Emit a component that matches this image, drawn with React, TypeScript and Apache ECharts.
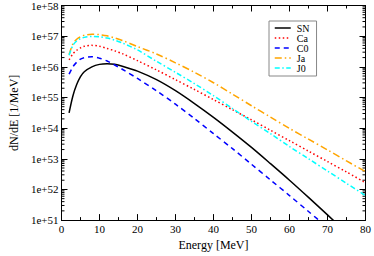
import React, { useEffect, useRef } from 'react';
import * as echarts from 'echarts';

// Energy grid [MeV]
const energies = [2, 3, 4, 5, 6, 8, 10, 12, 14, 16, 20, 25, 30, 35, 40, 45, 50, 55, 60, 65, 70, 75, 80];
// log10(dN/dE)
const snLog = [54.5, 55.05, 55.42, 55.68, 55.84, 56.0, 56.08, 56.1, 56.08, 56.02, 55.86, 55.58, 55.22, 54.8, 54.35, 53.87, 53.37, 52.84, 52.3, 51.74, 51.17, 50.59];
const caLog = [56.23, 56.42, 56.54, 56.62, 56.67, 56.7, 56.67, 56.6, 56.52, 56.43, 56.2, 55.9, 55.58, 55.26, 54.93, 54.6, 54.27, 53.93, 53.59, 53.25, 52.91, 52.57, 52.22];
const c0Log = [55.76, 56.0, 56.15, 56.25, 56.3, 56.33, 56.28, 56.19, 56.06, 55.92, 55.62, 55.22, 54.78, 54.31, 53.82, 53.33, 52.82, 52.31, 51.8, 51.28, 50.76];
const jaLog = [56.4, 56.75, 56.9, 56.98, 57.03, 57.06, 57.05, 57.01, 56.94, 56.86, 56.66, 56.42, 56.13, 55.82, 55.48, 55.11, 54.73, 54.36, 53.99, 53.64, 53.29, 52.93, 52.58];
const j0Log = [56.38, 56.7, 56.84, 56.92, 56.96, 56.99, 56.98, 56.94, 56.87, 56.78, 56.55, 56.18, 55.82, 55.45, 55.06, 54.64, 54.22, 53.82, 53.4, 53.0, 52.6, 52.2, 51.8];

const seriesNames = ['SN', 'Ca', 'C0', 'Ja', 'J0'];
const yDecades = [51, 52, 53, 54, 55, 56, 57];
const minorMultipliers = [2, 3, 4, 5, 6, 7, 8, 9];

const FONT = "'Liberation Serif', 'Times New Roman', serif";

function toPairs(logs: number[]) {
  return logs.map((v, i) => [energies[i], Math.pow(10, v)]);
}

export default function App() {
  const ref = useRef<HTMLDivElement>(null);
  useEffect(() => {
    if (!ref.current) return;
    const chart = echarts.init(ref.current, null, { renderer: 'svg' });
    const minorData: number[][] = [];
    yDecades.forEach((d) => minorMultipliers.forEach((k) => minorData.push([0, k * Math.pow(10, d)])));

    const xCommon = {
      type: 'value',
      min: 0,
      max: 80,
      interval: 10,
      splitLine: { show: false },
      axisLine: { show: true, onZero: false, lineStyle: { color: '#000', width: 1 } },
      axisTick: { show: true, inside: true, length: 6, lineStyle: { color: '#000' } },
      minorTick: { show: true, splitNumber: 2, length: 3, lineStyle: { color: '#000' } },
    };
    const yCommon = {
      type: 'log',
      logBase: 10,
      min: 1e51,
      max: 1e58,
      interval: 1,
      splitNumber: 7,
      splitLine: { show: false },
      axisLine: { show: true, onZero: false, lineStyle: { color: '#000', width: 1 } },
      axisTick: { show: true, inside: true, length: 6, lineStyle: { color: '#000' } },
    };

    const lineSeries = (name: string, logs: number[], color: string, type: any, width = 1.5) => ({
      name,
      type: 'line',
      data: toPairs(logs),
      smooth: 0.3,
      showSymbol: false,
      symbol: 'none',
      clip: true,
      lineStyle: { color, width, type },
      itemStyle: { color },
    });

    chart.setOption({
      animation: false,
      backgroundColor: '#fff',
      textStyle: { fontFamily: FONT },
      grid: { left: 45, right: 7, top: 5, bottom: 27, containLabel: false },
      legend: {
        data: seriesNames,
        orient: 'vertical',
        left: 269,
        top: 21,
        padding: [2, 7, 3, 5],
        itemGap: 0,
        itemWidth: 16,
        itemHeight: 9,
        borderColor: '#888',
        borderWidth: 1,
        borderRadius: 0,
        backgroundColor: '#fff',
        itemStyle: { opacity: 0 },
        lineStyle: { width: 1.5 },
        textStyle: { fontFamily: FONT, fontSize: 10, lineHeight: 9, color: '#000', padding: [0, 0, 0, 1] },
      },
      xAxis: [
        {
          ...xCommon,
          position: 'bottom',
          name: 'Energy [MeV]',
          nameLocation: 'middle',
          nameGap: 14,
          nameTextStyle: { fontFamily: FONT, fontSize: 12, color: '#000' },
          axisLabel: { show: true, fontFamily: FONT, fontSize: 11, color: '#000', margin: 3 },
        },
        {
          ...xCommon,
          position: 'top',
          axisLabel: { show: false },
        },
      ],
      yAxis: [
        {
          ...yCommon,
          position: 'left',
          name: 'dN/dE [1/MeV]',
          nameLocation: 'middle',
          nameGap: 33,
          nameTextStyle: { fontFamily: FONT, fontSize: 12, color: '#000' },
          axisLabel: {
            show: true,
            fontFamily: FONT,
            fontSize: 11,
            color: '#000',
            margin: 3,
            formatter: (v: number) => '1e+' + Math.round(Math.log10(v)),
          },
        },
        {
          ...yCommon,
          position: 'right',
          axisLabel: { show: false },
        },
      ],
      series: [
        lineSeries('SN', snLog, '#000000', 'solid'),
        lineSeries('Ca', caLog, '#ff0000', [1.5, 2.5]),
        lineSeries('C0', c0Log, '#0000ff', [5, 4]),
        lineSeries('Ja', jaLog, '#ffa500', [7, 3, 1.5, 3]),
        lineSeries('J0', j0Log, '#00ffff', [5, 2.5, 1.5, 2.5]),
        {
          type: 'custom',
          name: 'minorTicks',
          silent: true,
          clip: false,
          data: minorData,
          encode: { x: 0, y: 1 },
          renderItem: (params: any, api: any) => {
            const cs = params.coordSys;
            const y = api.coord([0, api.value(1)])[1];
            const style = { stroke: '#000', lineWidth: 1 };
            return {
              type: 'group',
              children: [
                { type: 'line', shape: { x1: cs.x, y1: y, x2: cs.x + 3, y2: y }, style },
                { type: 'line', shape: { x1: cs.x + cs.width - 3, y1: y, x2: cs.x + cs.width, y2: y }, style },
              ],
            };
          },
        },
      ],
    });
    return () => chart.dispose();
  }, []);
  return <div ref={ref} style={{ width: 374, height: 256, position: 'absolute', left: 0, top: 0 }} />;
}
